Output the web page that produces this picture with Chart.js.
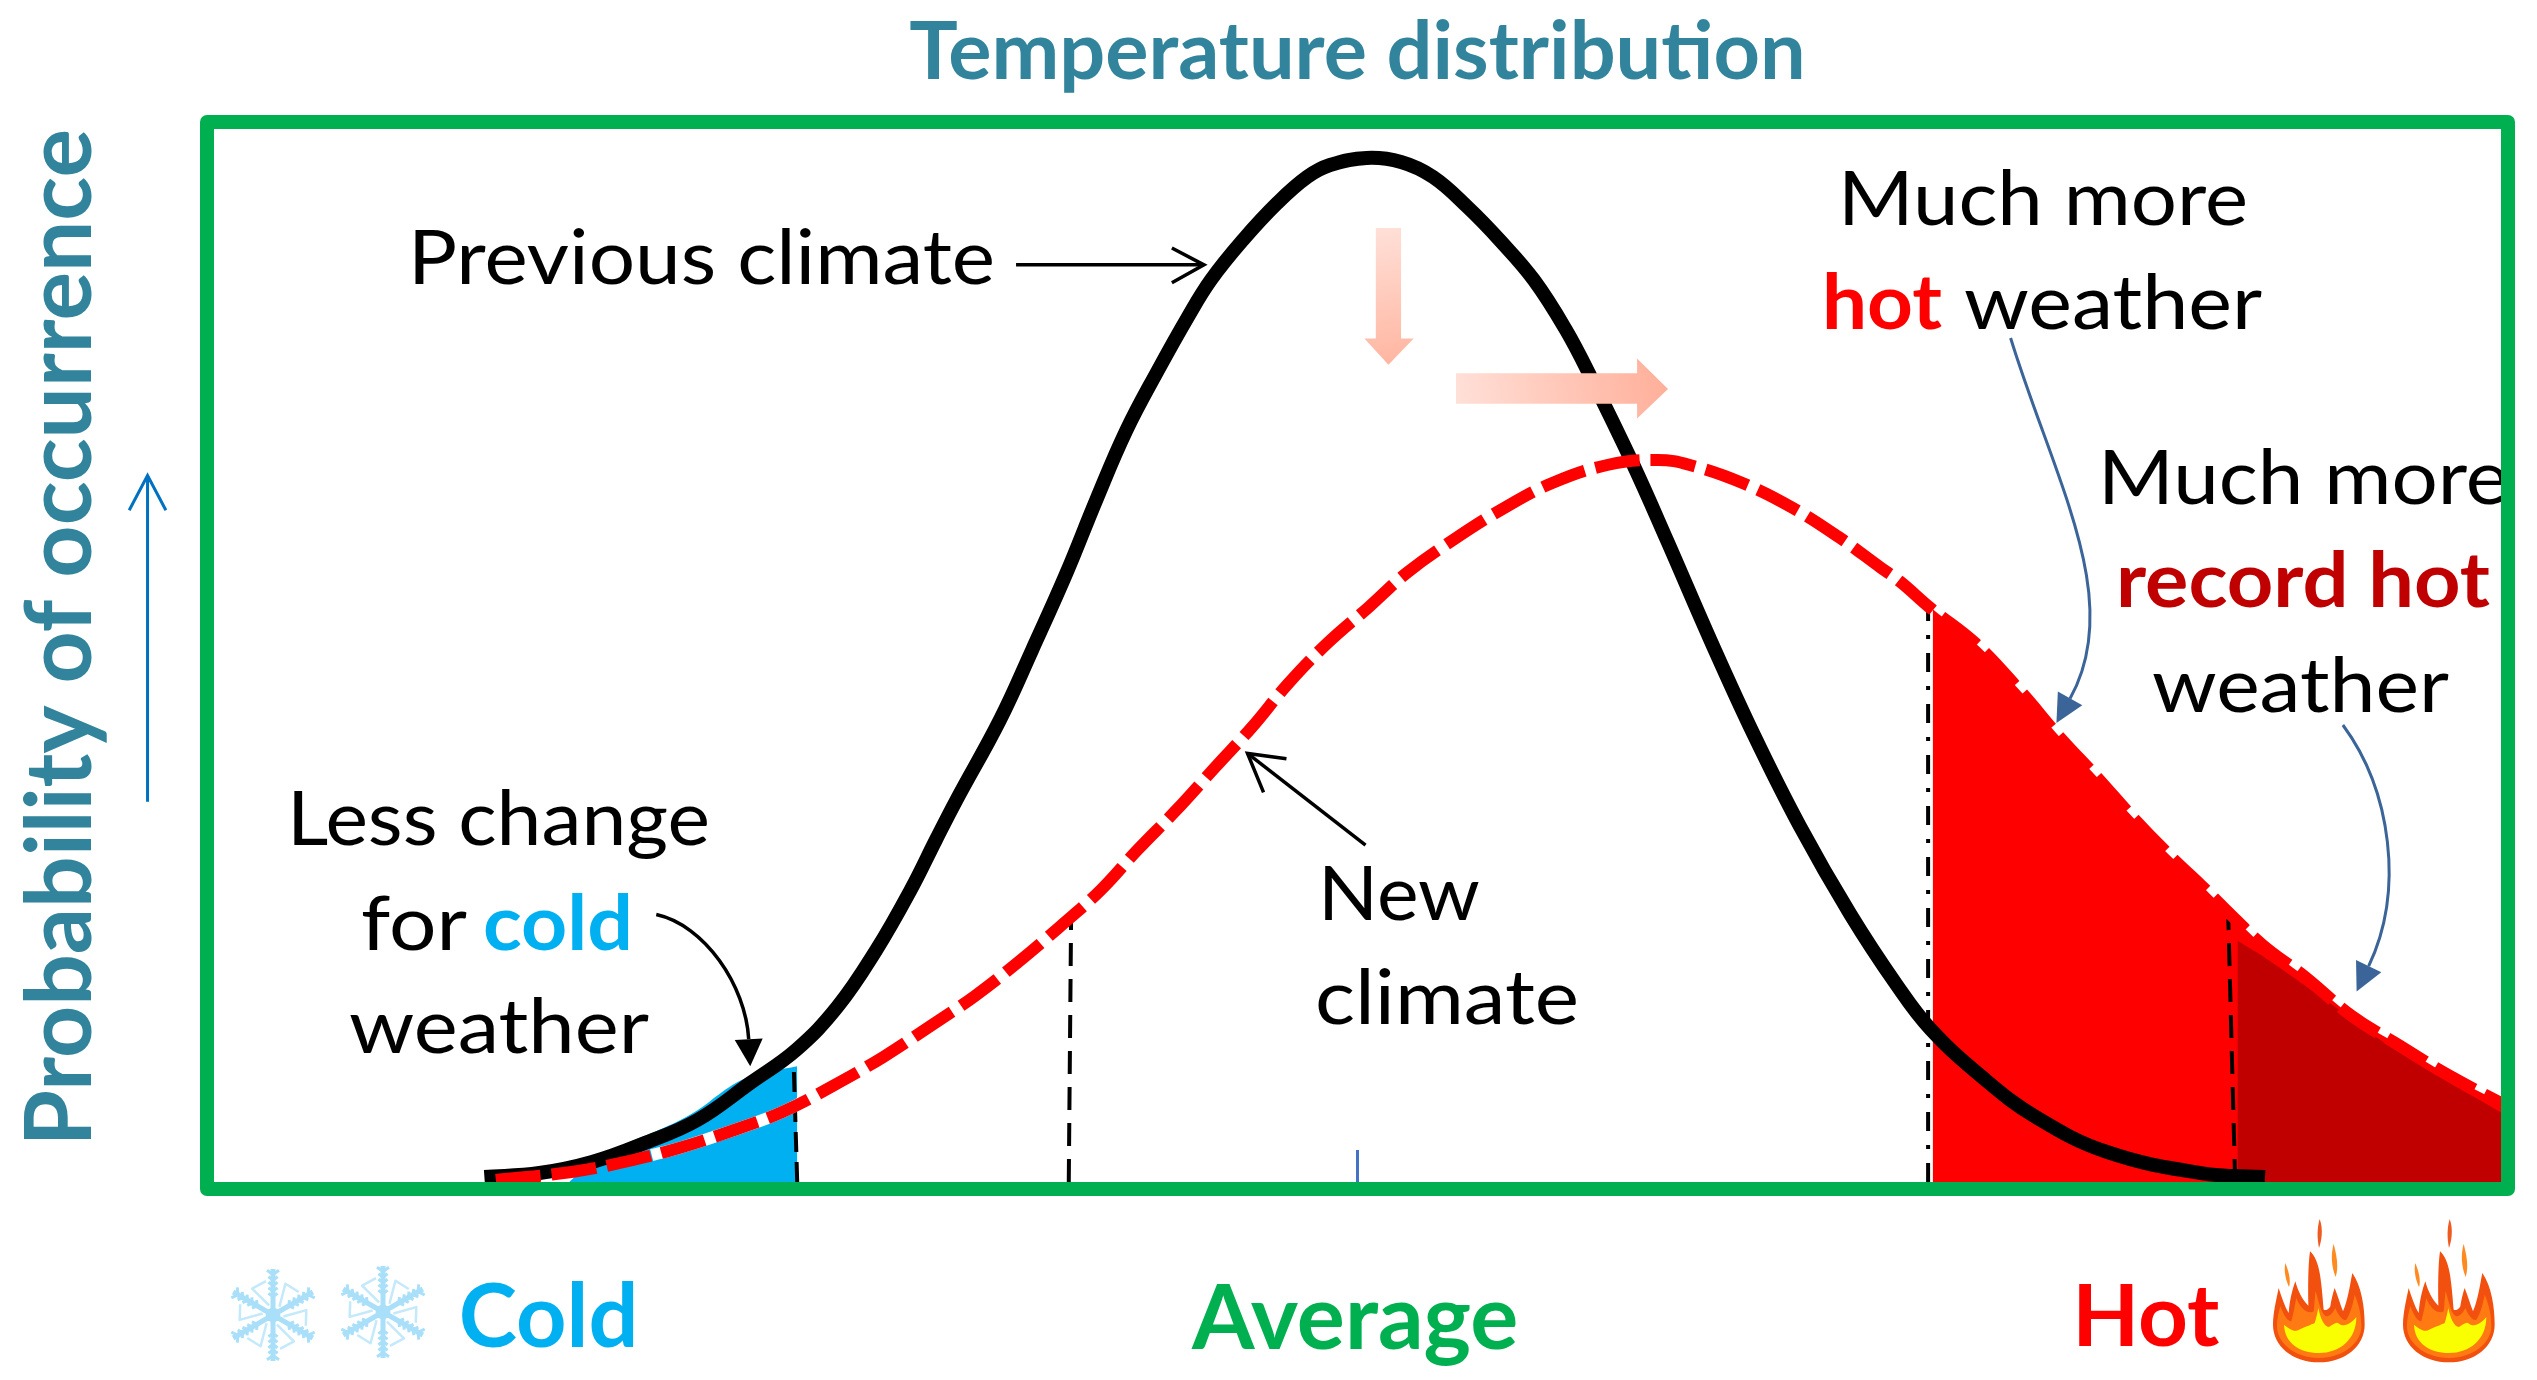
<!DOCTYPE html>
<html>
<head>
<meta charset="utf-8">
<style>
  html, body { margin: 0; padding: 0; background: #fff; }
  canvas { display: block; }
</style>
<script src="https://cdn.jsdelivr.net/npm/chart.js@4/dist/chart.umd.min.js"></script>
</head>
<body>
<canvas id="tempChart" width="2537" height="1380"></canvas>
<script>
// x is in units around the average, y is relative probability (0-100)
const previousX = [-3.81, -3.57, -3.34, -3.11, -2.88, -2.65, -2.45, -2.27, -2.10, -1.95, -1.84, -1.75, -1.56, -1.42, -1.27, -1.14, -1.01, -0.87, -0.74, -0.64, -0.50, -0.35, -0.22, -0.12, 0.04, 0.19, 0.33, 0.48, 0.62, 0.77, 0.91, 1.02, 1.20, 1.35, 1.54, 1.73, 1.93, 2.15, 2.35, 2.50, 2.73, 2.96, 3.27, 3.68, 3.96];
const previousY = [0.47, 0.85, 1.90, 3.70, 5.89, 9.40, 12.54, 16.62, 22.03, 27.73, 32.48, 36.28, 43.90, 50.52, 57.83, 64.77, 71.32, 77.11, 82.15, 85.66, 89.46, 92.97, 95.44, 96.58, 97.25, 96.87, 95.44, 92.59, 89.46, 85.66, 80.91, 76.35, 68.28, 60.97, 51.47, 42.45, 33.81, 25.45, 18.80, 14.53, 9.88, 6.17, 2.85, 0.85, 0.47];

const newX = [-3.76, -3.43, -3.20, -2.96, -2.72, -2.51, -2.29, -2.07, -1.87, -1.67, -1.49, -1.30, -1.12, -0.96, -0.79, -0.62, -0.46, -0.30, -0.13, 0.05, 0.22, 0.43, 0.64, 0.85, 1.09, 1.31, 1.45, 1.68, 1.90, 2.10, 2.28, 2.37, 2.50, 2.70, 2.90, 3.06, 3.23, 3.39, 3.56, 3.68, 3.79, 3.95, 4.13, 4.34, 4.55, 4.76, 4.99];
const newY = [0.19, 0.95, 1.90, 3.23, 4.94, 6.65, 9.12, 11.87, 14.72, 17.66, 20.71, 24.22, 27.73, 31.53, 35.33, 39.41, 43.21, 47.39, 51.19, 54.61, 57.93, 61.16, 64.01, 66.38, 68.09, 68.57, 68.09, 66.38, 64.01, 61.25, 58.40, 56.98, 54.51, 51.09, 46.44, 42.35, 38.37, 34.47, 30.67, 28.21, 25.83, 22.51, 19.56, 15.76, 12.92, 10.16, 7.50];

const coldAreaX = [-3.44, -3.31, -2.93, -2.67, -2.445];
const coldAreaY = [0, 2.4, 6.17, 9.88, 11.0];
const coldGapX = [-3.08, -2.96, -2.72, -2.51, -2.29];
const coldGapY = [2.55, 3.23, 4.94, 6.65, 9.12];

const hotAreaX = [2.51, 2.70, 2.90, 3.06, 3.23, 3.39, 3.56, 3.68, 3.79, 3.95, 4.13, 4.34, 4.55, 4.76, 4.99];
const hotAreaY = [54.4, 51.09, 46.44, 42.35, 38.37, 34.47, 30.67, 28.21, 25.83, 22.51, 19.56, 15.76, 12.92, 10.16, 7.50];
const recordAreaX = [3.84, 3.96, 4.21, 4.56, 4.99];
const recordAreaY = [22.9, 21.3, 17.5, 12.1, 6.6];

// dashed drop lines: x at the axis, x at the top, height at the top
const thresholdBaseX = [-2.445, -1.26, 2.49, 3.83];
const thresholdTopX = [-2.46, -1.25, 2.49, 3.80];
const thresholdTop = [10.9, 24.6, 54.2, 25];
const meanTickTop = 3.04;

const tickValues = [-3.53, -0.01, 3.44];
const tickLabels = ['Cold', 'Average', 'Hot'];
const tickColors = ['#00B0F0', '#00B050', '#FF0000'];
const tickSizes = [88, 90, 87];

const FONT = 'Lato, Carlito, "Open Sans", sans-serif';

function pts(xs, ys) {
  return xs.map((x, i) => ({ x: x, y: ys[i] }));
}

function curve(xs, ys, extra) {
  return Object.assign({
    data: pts(xs, ys),
    pointRadius: 0,
    tension: 0.4,
    borderCapStyle: 'butt',
    fill: false
  }, extra);
}

function area(xs, ys, color, order) {
  return curve(xs, ys, { borderWidth: 0, borderColor: color, backgroundColor: color, fill: 'origin', order: order });
}

const thresholdDash = [[20, 10], [23, 13], [19, 14, 4, 14], [23, 13]];
const thresholdSets = thresholdTopX.map((x, i) => curve([thresholdBaseX[i], x], [0, thresholdTop[i]], {
  borderColor: '#000', borderWidth: 4, borderDash: thresholdDash[i], order: 6, tension: 0
}));

// single text run, squeezed to the width
function label(ctx, text, x, y, w, color, bold, size) {
  ctx.save();
  ctx.font = (bold ? 'bold ' : '') + size + 'px ' + FONT;
  ctx.fillStyle = color;
  ctx.textBaseline = 'alphabetic';
  ctx.textAlign = 'left';
  const m = ctx.measureText(text).width;
  ctx.translate(x, y);
  ctx.scale(w / m, 1);
  ctx.fillText(text, 0, 0);
  ctx.restore();
}

function openHead(ctx, tip, a, b) {
  ctx.beginPath();
  ctx.moveTo(a[0], a[1]);
  ctx.lineTo(tip[0], tip[1]);
  ctx.lineTo(b[0], b[1]);
  ctx.stroke();
}

function bentArrow(ctx, p, color, lw, hl, hw) {
  const ang = Math.atan2(p[3][1] - p[2][1], p[3][0] - p[2][0]);
  const bx = p[3][0] - Math.cos(ang) * hl, by = p[3][1] - Math.sin(ang) * hl;
  ctx.strokeStyle = color;
  ctx.fillStyle = color;
  ctx.lineWidth = lw;
  ctx.beginPath();
  ctx.moveTo(p[0][0], p[0][1]);
  ctx.bezierCurveTo(p[1][0], p[1][1], p[2][0], p[2][1], bx, by);
  ctx.stroke();
  ctx.beginPath();
  ctx.moveTo(p[3][0], p[3][1]);
  ctx.lineTo(bx - Math.sin(ang) * hw / 2, by + Math.cos(ang) * hw / 2);
  ctx.lineTo(bx + Math.sin(ang) * hw / 2, by - Math.cos(ang) * hw / 2);
  ctx.closePath();
  ctx.fill();
}

function snowflake(ctx, cx, cy, r) {
  ctx.save();
  ctx.translate(cx, cy);
  ctx.strokeStyle = '#A9DFF9';
  for (let i = 0; i < 6; i++) {
    ctx.save();
    ctx.rotate(i * Math.PI / 3);
    ctx.lineWidth = 5;
    ctx.beginPath();
    ctx.moveTo(0, 0);
    ctx.lineTo(0, -r);
    ctx.stroke();
    ctx.lineWidth = 3;
    [0.4, 0.52, 0.64, 0.76, 0.88].forEach(k => {
      const s = r * (k > 0.8 ? 0.13 : 0.1);
      ctx.beginPath();
      ctx.moveTo(-s, -r * k - s * 0.7);
      ctx.lineTo(0, -r * k);
      ctx.lineTo(s, -r * k - s * 0.7);
      ctx.stroke();
    });
    ctx.globalAlpha = 0.7;
    ctx.lineWidth = 2.5;
    ctx.beginPath();
    ctx.moveTo(r * 0.14, -r * 0.18);
    ctx.lineTo(r * 0.27, -r * 0.68);
    ctx.lineTo(r * 0.56, -r * 0.5);
    ctx.stroke();
    ctx.restore();
  }
  ctx.fillStyle = '#A9DFF9';
  ctx.beginPath();
  ctx.arc(0, 0, r * 0.16, 0, Math.PI * 2);
  ctx.fill();
  ctx.restore();
}

function flamePath(ctx, pts) {
  ctx.beginPath();
  ctx.moveTo(pts[0][0], pts[0][1]);
  for (let i = 1; i < pts.length; i++) {
    const p = pts[i];
    if (p.length === 6) ctx.bezierCurveTo(p[0], p[1], p[2], p[3], p[4], p[5]);
    else ctx.lineTo(p[0], p[1]);
  }
  ctx.closePath();
  ctx.fill();
}

function flame(ctx, ox, oy) {
  ctx.save();
  ctx.translate(ox, oy);
  ctx.scale(1 / 3, 1 / 3);
  ctx.translate(-280, -115);
  ctx.fillStyle = '#F2500F';
  flamePath(ctx, [[418, 548], [340, 548, 280, 500, 280, 435], [280, 400, 290, 360, 297, 325], [305, 350, 315, 380, 327, 400], [330, 360, 338, 330, 347, 305], [355, 335, 368, 360, 386, 378], [385, 320, 385, 260, 391, 215], [420, 240, 425, 300, 432, 390], [440, 395, 450, 385, 452, 380], [455, 360, 460, 340, 465, 325], [475, 350, 482, 375, 490, 395], [505, 360, 510, 320, 518, 280], [545, 320, 555, 380, 555, 435], [555, 500, 495, 548, 418, 548]]);
  ctx.fillStyle = '#FF7A12';
  flamePath(ctx, [[418, 535], [345, 535, 292, 490, 292, 440], [292, 420, 296, 400, 302, 380], [312, 405, 322, 425, 335, 425], [342, 400, 346, 375, 350, 355], [360, 385, 385, 405, 402, 395], [405, 370, 405, 350, 408, 335], [418, 370, 425, 405, 440, 410], [450, 410, 460, 400, 467, 385], [475, 405, 490, 425, 500, 420], [515, 395, 520, 370, 525, 345], [540, 380, 545, 410, 545, 440], [545, 490, 490, 535, 418, 535]]);
  ctx.fillStyle = '#FAFF00';
  flamePath(ctx, [[418, 520], [360, 520, 315, 490, 313, 435], [325, 445, 345, 460, 358, 450], [375, 442, 395, 435, 405, 430], [410, 415, 413, 400, 416, 385], [422, 415, 432, 440, 448, 442], [460, 435, 470, 425, 478, 432], [495, 445, 515, 430, 530, 412], [530, 480, 480, 520, 418, 520]]);
  ctx.fillStyle = '#EE5A20';
  flamePath(ctx, [[420, 118], [432, 150, 425, 185, 418, 205], [412, 175, 412, 145, 420, 118]]);
  ctx.fillStyle = '#FF8A20';
  flamePath(ctx, [[462, 192], [470, 225, 478, 260, 468, 292], [455, 260, 453, 225, 462, 192]]);
  flamePath(ctx, [[317, 250], [325, 270, 335, 300, 328, 322], [318, 300, 312, 275, 317, 250]]);
  ctx.restore();
}

const annotations = {
  id: 'annotations',
  afterDatasetsDraw(chart) {
    const ctx = chart.ctx;
    const xs = chart.scales.x, ys = chart.scales.y;
    const at = (x, y) => [xs.getPixelForValue(x), ys.getPixelForValue(y)];

    ctx.save();
    ctx.lineCap = 'butt';

    // pink shift arrows
    let p = [[0.08, 90.6], [0.19, 90.6], [0.19, 80.1], [0.245, 80.1], [0.135, 77.6], [0.03, 80.1], [0.08, 80.1]].map(a => at(a[0], a[1]));
    let g = ctx.createLinearGradient(p[0][0], p[0][1], p[1][0], p[4][1]);
    g.addColorStop(0, '#FFE0D8');
    g.addColorStop(1, '#FFB5A0');
    ctx.fillStyle = g;
    ctx.beginPath();
    p.forEach((q, i) => i ? ctx.lineTo(q[0], q[1]) : ctx.moveTo(q[0], q[1]));
    ctx.closePath();
    ctx.fill();

    p = [[0.43, 76.8], [1.22, 76.8], [1.22, 78.2], [1.355, 75.3], [1.22, 72.5], [1.22, 73.9], [0.43, 73.9]].map(a => at(a[0], a[1]));
    g = ctx.createLinearGradient(p[0][0], p[6][1], p[3][0], p[0][1]);
    g.addColorStop(0, '#FFE0D8');
    g.addColorStop(1, '#FFAF99');
    ctx.fillStyle = g;
    ctx.beginPath();
    p.forEach((q, i) => i ? ctx.lineTo(q[0], q[1]) : ctx.moveTo(q[0], q[1]));
    ctx.closePath();
    ctx.fill();

    // pointers
    ctx.strokeStyle = '#000';
    ctx.lineWidth = 3.5;
    let a = at(-1.49, 87.1), tip = at(-0.67, 87.1);
    ctx.beginPath(); ctx.moveTo(a[0], a[1]); ctx.lineTo(tip[0], tip[1]); ctx.stroke();
    openHead(ctx, tip, at(-0.81, 88.7), at(-0.81, 85.4));

    a = at(0.035, 32.0); tip = at(-0.48, 40.7);
    ctx.beginPath(); ctx.moveTo(a[0], a[1]); ctx.lineTo(tip[0], tip[1]); ctx.stroke();
    openHead(ctx, tip, at(-0.31, 40.2), at(-0.41, 37.0));

    bentArrow(ctx, [at(-3.06, 25.4), at(-2.85, 24.4), at(-2.67, 18.7), at(-2.65, 11.0)], '#000', 3.5, 27, 28);
    bentArrow(ctx, [at(2.85, 80.15), at(3.04, 66.7), at(3.35, 55.3), at(3.05, 43.6)], '#3B6499', 3, 28, 28);
    bentArrow(ctx, [at(4.30, 43.4), at(4.51, 37.2), at(4.57, 27.7), at(4.36, 18.1)], '#3B6499', 3, 28, 28);

    ctx.strokeStyle = '#0070C0';
    ctx.lineWidth = 3;
    a = at(-5.28, 36.1); tip = at(-5.28, 67.1);
    ctx.beginPath(); ctx.moveTo(a[0], a[1]); ctx.lineTo(tip[0], tip[1]); ctx.stroke();
    openHead(ctx, tip, at(-5.36, 63.8), at(-5.20, 63.8));

    // annotation text
    const S = 76;
    label(ctx, 'Previous climate', 408, 284, 587, '#000', false, S);
    label(ctx, 'Much more', 1838, 225, 410, '#000', false, S);
    label(ctx, 'hot', 1822, 329, 120, '#FF0000', true, S);
    label(ctx, 'weather', 1964, 329, 298, '#000', false, S);
    label(ctx, 'Much more', 2098, 504, 411, '#000', false, S);
    label(ctx, 'record hot', 2116, 607, 374, '#C00000', true, S);
    label(ctx, 'weather', 2152, 712, 297, '#000', false, S);
    label(ctx, 'New', 1318, 920, 162, '#000', false, S);
    label(ctx, 'climate', 1315, 1024, 264, '#000', false, S);
    label(ctx, 'Less change', 287, 845, 423, '#000', false, S);
    label(ctx, 'for', 361, 950, 106, '#000', false, S);
    label(ctx, 'cold', 483, 950, 150, '#00B0F0', true, S);
    label(ctx, 'weather', 349, 1053, 300, '#000', false, S);

    // plot frame
    const c = chart.chartArea;
    ctx.strokeStyle = '#00B050';
    ctx.lineWidth = 14;
    ctx.lineJoin = 'round';
    ctx.strokeRect(c.left - 7, c.top - 7, c.right - c.left + 14, c.bottom - c.top + 14);

    snowflake(ctx, 273, 1315, 46);
    snowflake(ctx, 383, 1312, 46);
    flame(ctx, 2273, 1218);
    flame(ctx, 2403, 1218);
    ctx.restore();
  }
};

new Chart(document.getElementById('tempChart'), {
  type: 'line',
  data: {
    datasets: [
      area(hotAreaX, hotAreaY, '#FF0000', 9),
      area(recordAreaX, recordAreaY, '#C00000', 8),
      area(coldAreaX, coldAreaY, '#00B0F0', 7),
      ...thresholdSets,
      curve([0, 0], [0, meanTickTop], { borderColor: '#4472C4', borderWidth: 3, order: 5 }),
      curve(previousX, previousY, { borderColor: '#000', borderWidth: 14, order: 4 }),
      curve(coldGapX, coldGapY, { borderColor: '#fff', borderWidth: 12, order: 3 }),
      curve(newX, newY, { borderColor: '#FF0000', borderWidth: 12, borderDash: [45, 11], order: 2 })
    ]
  },
  plugins: [annotations],
  options: {
    responsive: false,
    devicePixelRatio: 1,
    animation: false,
    layout: { padding: { left: 0, right: 36, top: 0, bottom: 0 } },
    plugins: {
      legend: { display: false },
      tooltip: { enabled: false },
      title: {
        display: true,
        fullSize: false,
        text: 'Temperature distribution',
        color: '#31849B',
        font: { family: FONT, size: 81, weight: 'bold', lineHeight: 1.2 },
        padding: { top: 4.5, bottom: 27.3 }
      }
    },
    scales: {
      x: {
        type: 'linear',
        min: -4.99,
        max: 4.99,
        grid: { display: false },
        border: { display: false },
        afterBuildTicks(axis) { axis.ticks = tickValues.map(v => ({ value: v })); },
        afterFit(axis) { axis.height = 198; },
        ticks: {
          autoSkip: false,
          maxRotation: 0,
          padding: 76,
          font: ctx => ({ family: FONT, size: tickSizes[ctx.index], weight: 'bold' }),
          color: ctx => tickColors[ctx.index],
          callback: (v, i) => tickLabels[i]
        }
      },
      y: {
        min: 0,
        max: 100,
        grid: { display: false },
        border: { display: false },
        ticks: { display: false },
        afterFit(axis) { axis.width = 214; },
        title: {
          display: true,
          text: 'Probability of occurrence',
          align: 'end',
          color: '#31849B',
          font: { family: FONT, size: 91, weight: 'bold', lineHeight: 1.2 },
          padding: { top: 7, bottom: 0 }
        }
      }
    }
  }
});
</script>
</body>
</html>
